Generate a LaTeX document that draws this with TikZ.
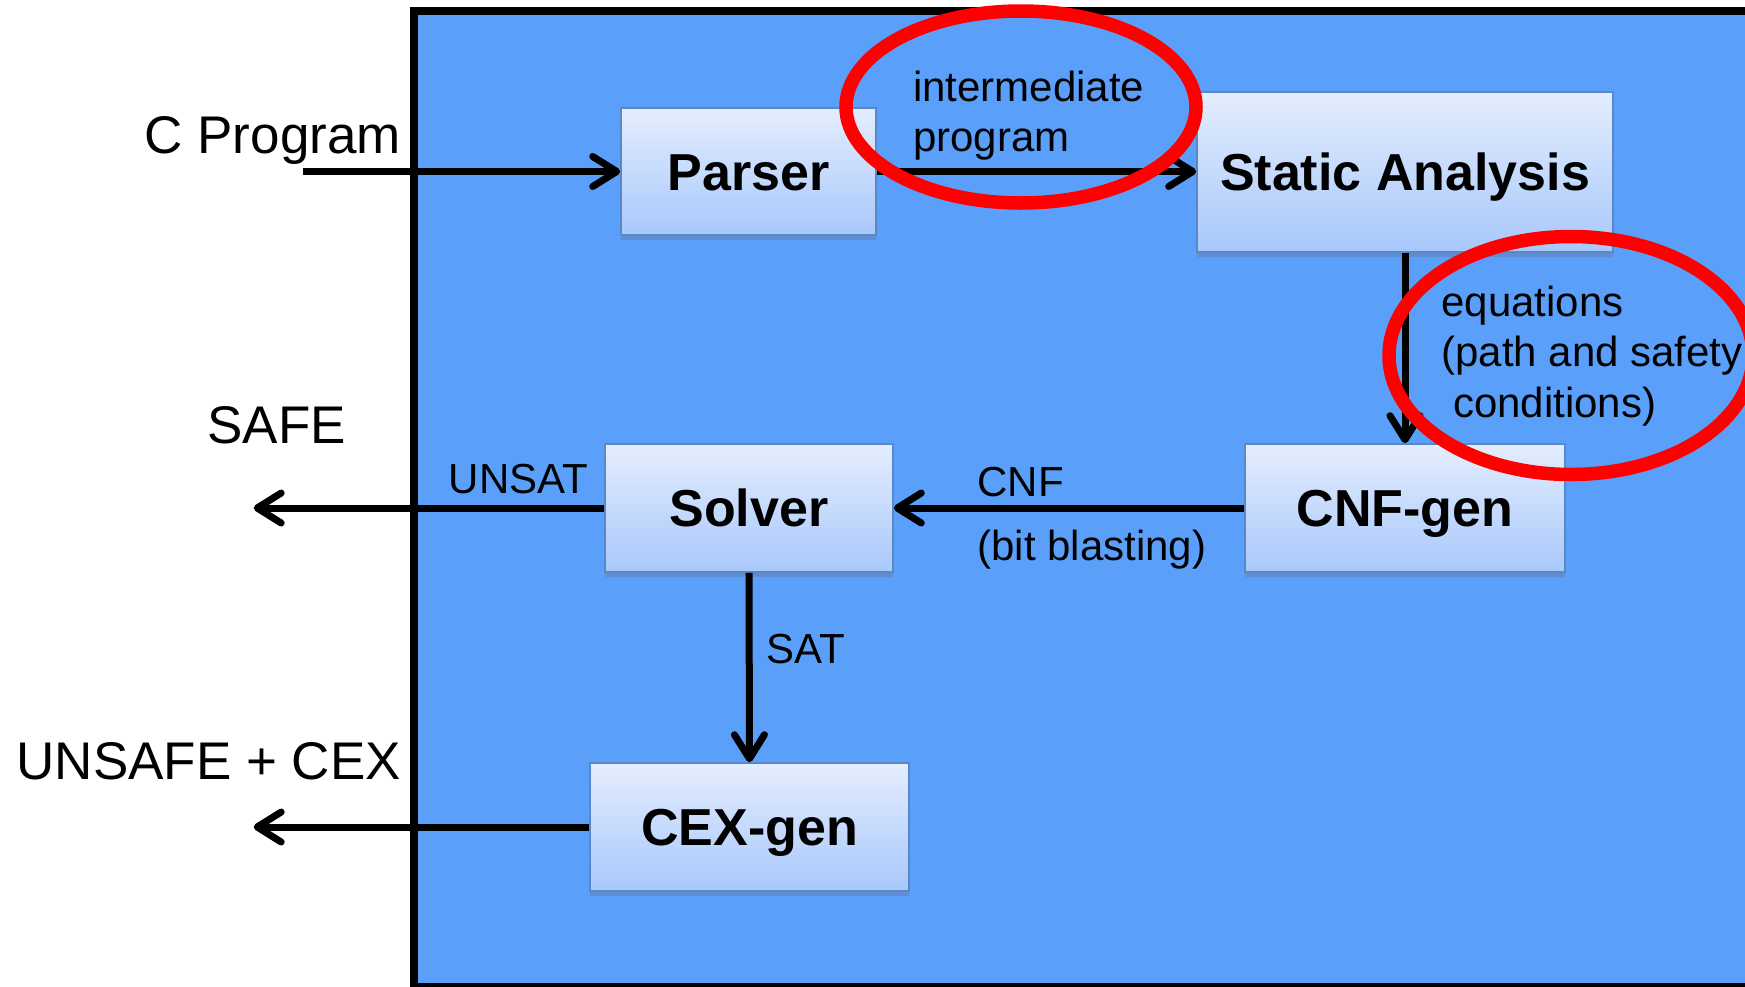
\documentclass[tikz,border=0pt]{standalone}
\usepackage{fontspec}
\setmainfont{Liberation Sans}
\usetikzlibrary{arrows.meta,shadows}
\definecolor{bgblue}{HTML}{5AA0FB}
\definecolor{boxtop}{HTML}{E4EDFD}
\definecolor{boxbot}{HTML}{A8C8FC}
\definecolor{boxline}{HTML}{5A88C6}
\definecolor{boxshadow}{HTML}{5E8DD4}
\definecolor{ring}{HTML}{FF0000}
\tikzset{
  stage/.style={draw=boxline, line width=0.8pt, top color=boxtop, bottom color=boxbot,
    inner sep=0pt, font=\fontsize{26}{30}\selectfont\bfseries, text height=18.6pt, text depth=0pt,
    drop shadow={shadow xshift=0pt, shadow yshift=-2.3pt, fill=boxshadow, opacity=1}},
  flow/.style={line width=3.5pt, -{Straight Barb[round,length=12pt,width=15pt]}},
  mainlbl/.style={inner sep=0pt, font=\fontsize{26.5}{30}\selectfont},
  small/.style={inner sep=0pt, font=\fontsize{21}{25.3}\selectfont, align=left},
  ringstyle/.style={draw=ring, line width=6.75pt},
}
\begin{document}
\begin{tikzpicture}[x=0.5pt,y=-0.5pt]
\useasboundingbox (0,0) rectangle (1745,986);
\clip (0,0) rectangle (1745,986);
\draw[line width=4pt, fill=bgblue] (413.5,11) rectangle (1770,987);

\node[stage, minimum width=127.5pt, minimum height=63.5pt] (parser) at (748.5,171.5) {Parser};
\node[stage, minimum width=208pt, minimum height=80pt] (sa) at (1405,172) {Static Analysis};
\node[stage, minimum width=160pt, minimum height=64pt] (cnfgen) at (1405,508) {CNF-gen};
\node[stage, minimum width=144pt, minimum height=64pt] (solver) at (749,508) {Solver};
\node[stage, minimum width=159.5pt, minimum height=64pt] (cexgen) at (749.5,827) {CEX-gen};

\node[mainlbl, anchor=base] (cprog) at (272.7,153) {C Program};
\node[mainlbl, anchor=base] (safe) at (276.6,443) {SAFE};
\node[mainlbl, anchor=base] (unsafe) at (208.7,779) {UNSAFE + CEX};

\node[small, anchor=base] (unsat) at (518.6,493) {UNSAT};
\node[small, anchor=base west] (cnf) at (977,496) {CNF};
\node[small, anchor=base west] (bb) at (977,560) {(bit blasting)};
\node[small, anchor=base west] (sat) at (765.7,663) {SAT};
\node[small, anchor=north west] (inter) at (912.6,70.5) {intermediate\\program};
\node[small, anchor=north west] (eqs) at (1441,285.5) {equations\\(path and safety\\\ conditions)};

\coordinate (cin) at (302.7,171.5);
\coordinate (safeout) at (253.7,508);
\coordinate (unsafeout) at (253.7,827);

\draw[flow] (cin) -- (parser.west);
\draw[flow] (parser.east) -- (parser.east -| sa.west);
\draw[flow] (sa.south) -- (cnfgen.north);
\draw[flow] (cnfgen.west) -- (solver.east);
\draw[flow] (solver.west) -- (safeout);
\draw[flow] (solver.south) -- (cexgen.north);
\draw[flow] (cexgen.west) -- (unsafeout);

\draw[ringstyle] (1021,107) ellipse [x radius=175, y radius=96];
\draw[ringstyle] (1571,355.5) ellipse [x radius=182, y radius=119];
\end{tikzpicture}
\end{document}
